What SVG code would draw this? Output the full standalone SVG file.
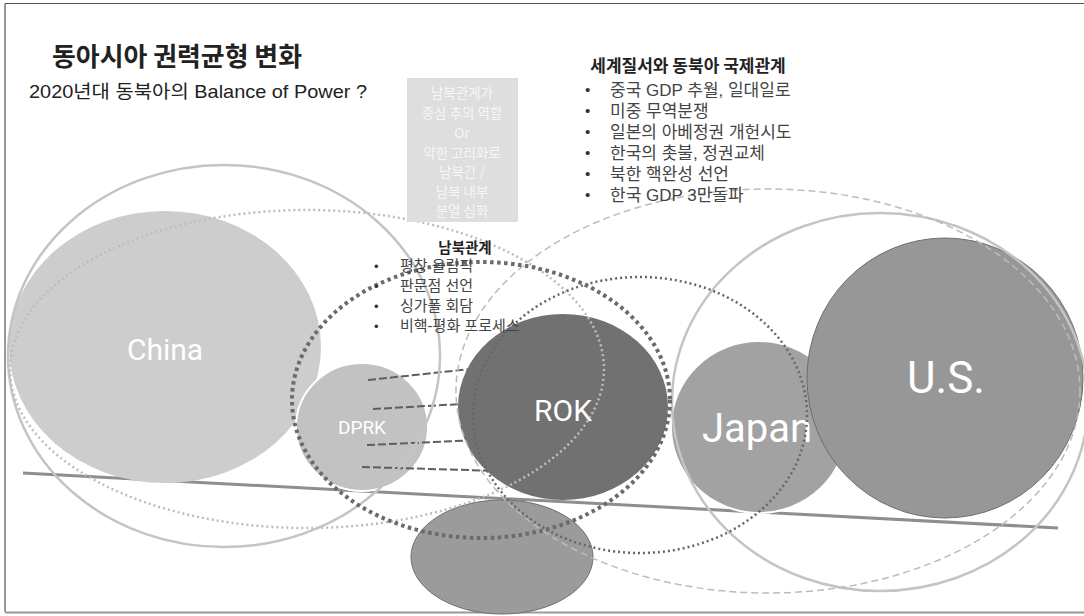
<svg xmlns="http://www.w3.org/2000/svg" width="1084" height="616" viewBox="0 0 1084 616">
  <style>
    .kr { font-family: "Noto Sans CJK KR", "Noto Sans", sans-serif; }
    .lbl { font-family: Roboto, "Liberation Sans", sans-serif; fill: #ffffff; text-anchor: middle; dominant-baseline: central; }
    .outline-solid { fill: none; stroke: #c4c4c4; stroke-width: 2.5; }
    .outline-dotlight { fill: none; stroke: #bdbdbd; stroke-width: 2.5; stroke-dasharray: 2 3; }
    .outline-dotthick { fill: none; stroke: #6b6b6b; stroke-width: 4; stroke-dasharray: 3.5 3.5; }
    .outline-dotfine { fill: none; stroke: #666666; stroke-width: 2.5; stroke-dasharray: 2 3; }
    .outline-dash { fill: none; stroke: #bcbcbc; stroke-width: 1.5; stroke-dasharray: 7 4; }
    .conn { stroke: #5e5e5e; stroke-width: 2; stroke-dasharray: 8 3; fill: none; }
    .bullet { font-family: "Liberation Sans", "Noto Sans CJK KR", sans-serif; fill: #333333; }
    .item { font-family: "Liberation Sans", "Noto Sans CJK KR", sans-serif; fill: #444444; }
    .boxtxt { font-family: "Noto Sans CJK KR", "Noto Sans", sans-serif; fill: #f6f6f6; font-size: 13.5px; text-anchor: middle; }
  </style>
  <rect x="0" y="0" width="1084" height="616" fill="#ffffff"/>
  <g id="frame">
    <line x1="5" y1="3.5" x2="1084" y2="3.5" stroke="#555" stroke-width="1.2"/>
    <line x1="5" y1="3.5" x2="5" y2="612" stroke="#555" stroke-width="1.2"/>
    <line x1="5" y1="612.5" x2="1084" y2="612.5" stroke="#999" stroke-width="2"/>
  </g>

  <g id="baseline">
    <line x1="23" y1="473" x2="1058" y2="528" stroke="#8e8e8e" stroke-width="3"/>
  </g>

  <g id="china">
    <ellipse cx="165" cy="347" rx="156" ry="136" fill="#cdcdcd"/>
    <text class="lbl" x="165" y="349" font-size="30">China</text>
  </g>

  <g id="dprk">
    <ellipse cx="362" cy="427" rx="66" ry="64" fill="#c2c2c2" stroke="#ffffff" stroke-width="2"/>
    <text class="lbl" x="362" y="427" font-size="19">DPRK</text>
  </g>

  <g id="connectors">
    <line class="conn" x1="368" y1="380" x2="480" y2="368"/>
    <line class="conn" x1="373" y1="409" x2="480" y2="403"/>
    <line class="conn" x1="367" y1="445" x2="480" y2="440"/>
    <line class="conn" x1="362" y1="467" x2="500" y2="471"/>
  </g>

  <g id="rok">
    <ellipse cx="563" cy="407" rx="105" ry="93" fill="#717171"/>
    <text class="lbl" x="563" y="410" font-size="30">ROK</text>
  </g>

  <g id="japan">
    <ellipse cx="759" cy="427" rx="88" ry="86" fill="#a2a2a2" stroke="#ffffff" stroke-width="2"/>
    <text class="lbl" x="757" y="428" font-size="40">Japan</text>
  </g>

  <g id="us">
    <ellipse cx="945" cy="378" rx="138" ry="140" fill="#979797" stroke="#6e6e6e" stroke-width="1"/>
    <text class="lbl" x="946" y="378" font-size="44">U.S.</text>
  </g>

  <g id="bottom-node">
    <ellipse cx="502" cy="557" rx="91" ry="57" fill="#9b9b9b" stroke="#707070" stroke-width="1"/>
  </g>

  <g id="ranges">
    <ellipse class="outline-solid" cx="224" cy="356" rx="216" ry="191"/>
    <ellipse class="outline-solid" cx="880" cy="402" rx="208" ry="189"/>
    <ellipse class="outline-dotlight" cx="307" cy="369" rx="297" ry="159"/>
    <ellipse class="outline-dash" cx="768" cy="391" rx="312" ry="202"/>
    <ellipse class="outline-dotfine" cx="640" cy="415" rx="167" ry="138"/>
    <ellipse class="outline-dotthick" cx="481" cy="400" rx="189" ry="138"/>
  </g>

  <g id="title">
    <text class="kr" x="52" y="66" font-size="26" font-weight="bold" fill="#222" textLength="250" lengthAdjust="spacingAndGlyphs">동아시아 권력균형 변화</text>
    <text x="29" y="98" font-size="18.5" fill="#222" font-family="Liberation Sans, Noto Sans CJK KR, sans-serif" textLength="338" lengthAdjust="spacingAndGlyphs">2020년대 동북아의 Balance of Power ?</text>
  </g>

  <g id="note-box">
    <rect x="407" y="78" width="111" height="144" fill="#dedede"/>
    <text class="boxtxt" x="462" y="98">남북관계가</text>
    <text class="boxtxt" x="462" y="118">중심 추의 역할</text>
    <text class="boxtxt" x="462" y="138">Or</text>
    <text class="boxtxt" x="462" y="158">약한 고리화로</text>
    <text class="boxtxt" x="462" y="177">남북간 /</text>
    <text class="boxtxt" x="462" y="197">남북 내부</text>
    <text class="boxtxt" x="462" y="216">분열 심화</text>
  </g>

  <g id="world-order">
    <text class="kr" x="688" y="72" font-size="17" font-weight="bold" fill="#222" text-anchor="middle">세계질서와 동북아 국제관계</text>
    <text class="bullet" font-size="15">
      <tspan x="585" y="95">•</tspan>
      <tspan x="585" y="116">•</tspan>
      <tspan x="585" y="137">•</tspan>
      <tspan x="585" y="158">•</tspan>
      <tspan x="585" y="179">•</tspan>
      <tspan x="585" y="200">•</tspan>
    </text>
    <text class="item" font-size="17">
      <tspan x="610" y="96">중국 GDP 추월, 일대일로</tspan>
      <tspan x="610" y="117">미중 무역분쟁</tspan>
      <tspan x="610" y="138">일본의 아베정권 개헌시도</tspan>
      <tspan x="610" y="159">한국의 촛불, 정권교체</tspan>
      <tspan x="610" y="180">북한 핵완성 선언</tspan>
      <tspan x="610" y="201">한국 GDP 3만돌파</tspan>
    </text>
  </g>

  <g id="inter-korean">
    <text class="kr" x="465" y="253" font-size="14.5" font-weight="bold" fill="#222" text-anchor="middle">남북관계</text>
    <text class="bullet" font-size="13">
      <tspan x="374" y="271">•</tspan>
      <tspan x="374" y="291">•</tspan>
      <tspan x="374" y="311">•</tspan>
      <tspan x="374" y="331">•</tspan>
    </text>
    <text class="item" font-size="15">
      <tspan x="400" y="271">평창 올림픽</tspan>
      <tspan x="400" y="291">판문점 선언</tspan>
      <tspan x="400" y="311">싱가폴 회담</tspan>
      <tspan x="400" y="331">비핵-평화 프로세스</tspan>
    </text>
  </g>
</svg>
